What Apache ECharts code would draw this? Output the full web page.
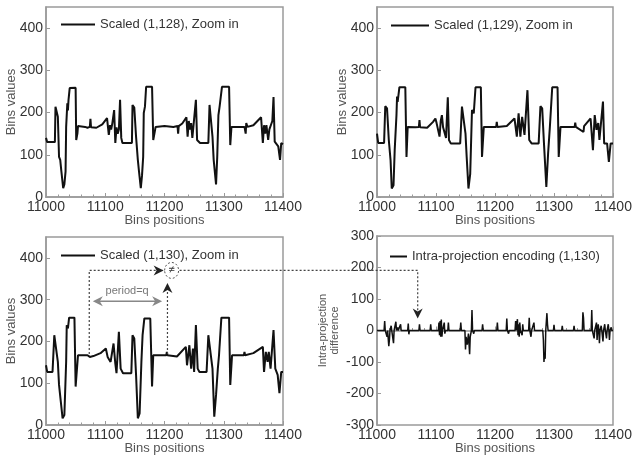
<!DOCTYPE html>
<html>
<head>
<meta charset="utf-8">
<script src="https://cdn.jsdelivr.net/npm/echarts@6/dist/echarts.min.js"></script>
<style>
html, body { margin: 0; padding: 0; background: #fff; }
#main { width: 639px; height: 458px; }
</style>
</head>
<body>
<div id="main"></div>
<script>
// ranges and tick steps
var xRange = [11000, 11400];
var valueRange = [0, 450];
var diffRange = [-300, 300];

// Scaled (1,128), zoom in  -> [bin position, bin value]
var scaled128 = [[11000,140],[11002,130],[11015,130],[11016,214],[11018,212],[11020,190],[11022,95],[11024,88],[11026,60],[11029,21],[11031,30],[11033,60],[11034,166],[11036,222],[11037,205],[11038,230],[11040,258],[11050,259],[11051,135],[11053,150],[11054,168],[11066,166],[11070,164],[11074,166],[11075,185],[11076,165],[11085,164],[11095,172],[11103,187],[11106,147],[11108,170],[11110,160],[11112,175],[11115,206],[11117,128],[11119,165],[11121,150],[11123,160],[11125,230],[11127,140],[11129,128],[11132,131],[11145,128],[11146,218],[11149,212],[11152,143],[11155,88],[11157,60],[11160,21],[11162,50],[11164,95],[11165,199],[11167,214],[11169,261],[11179,261],[11181,135],[11183,150],[11185,166],[11200,168],[11215,166],[11222,168],[11223,150],[11224,168],[11230,174],[11237,189],[11239,143],[11241,180],[11243,160],[11245,175],[11247,140],[11250,185],[11253,230],[11255,135],[11258,131],[11260,128],[11274,128],[11276,218],[11279,214],[11281,143],[11283,88],[11287,30],[11289,95],[11291,194],[11293,214],[11297,261],[11309,261],[11311,123],[11313,166],[11335,166],[11337,150],[11338,175],[11340,166],[11350,170],[11363,189],[11366,128],[11368,170],[11370,150],[11372,170],[11375,135],[11377,160],[11382,180],[11384,237],[11386,131],[11389,128],[11392,120],[11395,88],[11397,128],[11400,125]];

// Scaled (1,129), zoom in
var scaled129 = [[11000,150],[11002,128],[11012,128],[11014,215],[11017,210],[11020,135],[11022,103],[11023,87],[11025,20],[11028,28],[11030,111],[11033,194],[11034,238],[11035,225],[11038,260],[11048,260],[11050,95],[11052,166],[11065,165],[11071,166],[11072,182],[11073,165],[11085,164],[11095,178],[11099,186],[11101,175],[11106,143],[11108,180],[11110,194],[11112,165],[11117,140],[11120,236],[11122,135],[11125,127],[11141,127],[11144,214],[11147,210],[11150,150],[11152,95],[11155,20],[11158,55],[11161,206],[11164,198],[11167,260],[11176,260],[11178,95],[11181,166],[11202,166],[11203,178],[11204,166],[11220,168],[11233,186],[11237,143],[11240,198],[11243,143],[11246,190],[11250,147],[11255,253],[11258,135],[11262,127],[11274,127],[11277,215],[11280,210],[11283,127],[11287,24],[11290,103],[11293,166],[11297,260],[11306,260],[11308,95],[11311,166],[11335,166],[11336,176],[11337,166],[11350,154],[11351,168],[11362,186],[11366,111],[11369,194],[11372,159],[11375,175],[11377,135],[11383,226],[11385,127],[11390,127],[11393,83],[11396,127],[11400,127]];

// Scaled (1,130), zoom in
var scaled130 = [[11000,143],[11002,127],[11011,127],[11014,215],[11017,211],[11020,151],[11022,96],[11025,56],[11028,16],[11031,24],[11034,151],[11035,239],[11037,231],[11039,257],[11048,257],[11050,92],[11054,167],[11070,167],[11074,163],[11080,165],[11092,172],[11101,183],[11104,163],[11109,151],[11114,195],[11117,147],[11119,124],[11123,223],[11126,135],[11130,124],[11144,124],[11146,215],[11149,207],[11152,120],[11155,16],[11158,28],[11161,151],[11163,215],[11166,255],[11176,255],[11179,92],[11181,167],[11203,167],[11204,175],[11205,167],[11221,164],[11236,187],[11238,143],[11242,191],[11245,135],[11248,183],[11250,127],[11253,239],[11256,135],[11259,127],[11271,127],[11274,215],[11277,211],[11281,135],[11284,20],[11287,72],[11290,135],[11292,167],[11296,257],[11309,257],[11311,96],[11314,167],[11334,167],[11335,175],[11336,167],[11350,172],[11366,187],[11368,127],[11371,175],[11374,151],[11376,175],[11379,135],[11384,227],[11387,135],[11391,120],[11394,76],[11397,127],[11400,127]];

// Intra-projection encoding (1,130): difference
var intraDiff = [[11000,0],[11012,0],[11013,30],[11014,0],[11016,0],[11017,-20],[11018,0],[11019,0],[11020,-50],[11021,-30],[11022,0],[11023,0],[11024,15],[11025,0],[11027,0],[11028,-40],[11029,0],[11031,0],[11032,28],[11033,0],[11034,0],[11035,10],[11036,0],[11039,0],[11040,20],[11041,0],[11052,0],[11053,22],[11054,-12],[11055,0],[11071,0],[11072,20],[11073,0],[11090,0],[11091,20],[11092,0],[11104,0],[11105,25],[11106,-15],[11107,30],[11108,-20],[11109,35],[11110,-20],[11111,0],[11113,0],[11114,25],[11115,-10],[11116,0],[11120,0],[11121,25],[11122,0],[11141,0],[11142,25],[11143,0],[11149,0],[11150,-60],[11151,-20],[11153,-45],[11155,-10],[11157,-75],[11158,-20],[11160,0],[11161,65],[11162,0],[11163,0],[11164,-10],[11165,0],[11178,0],[11179,20],[11180,0],[11203,0],[11204,25],[11205,0],[11219,0],[11220,38],[11221,0],[11222,0],[11223,-10],[11224,0],[11234,0],[11235,30],[11236,0],[11237,0],[11238,36],[11239,-15],[11240,20],[11241,-20],[11242,25],[11243,0],[11245,0],[11246,-15],[11247,20],[11248,0],[11257,0],[11258,40],[11259,0],[11260,0],[11261,-20],[11262,0],[11265,0],[11266,25],[11267,0],[11281,0],[11282,-30],[11283,-100],[11284,-70],[11285,-90],[11286,0],[11287,0],[11288,55],[11289,20],[11290,0],[11299,0],[11300,18],[11301,0],[11313,0],[11314,15],[11315,0],[11333,0],[11334,15],[11335,0],[11348,0],[11349,58],[11350,40],[11351,0],[11363,0],[11364,65],[11365,0],[11367,0],[11368,-25],[11369,0],[11371,0],[11372,25],[11373,-30],[11374,0],[11375,20],[11376,0],[11377,-40],[11378,0],[11380,15],[11381,0],[11383,-35],[11384,0],[11386,20],[11387,0],[11389,-25],[11390,0],[11392,20],[11393,0],[11394,-30],[11395,0],[11397,10],[11398,0],[11400,0]];

var seriesNames = ['Scaled (1,128), Zoom in', 'Scaled (1,129), Zoom in', 'Scaled (1,130), Zoom in', 'Intra-projection encoding (1,130)'];

var FONT = 'Liberation Sans, Arial, sans-serif';
var frameColor = '#9a9a9a';

function makeX(g) {
    return {
        type: 'value', gridIndex: g, min: xRange[0], max: xRange[1], interval: 100,
        name: 'Bins positions', nameLocation: 'middle', nameGap: 17, nameMoveOverlap: false,
        nameTextStyle: { fontFamily: FONT, fontSize: 13, color: '#555' },
        axisLine: { lineStyle: { color: frameColor, width: 1.5 } },
        axisTick: { inside: true, length: 4, lineStyle: { color: frameColor } },
        minorTick: { show: true, splitNumber: 5, length: 2.5, lineStyle: { color: frameColor } },
        axisLabel: { fontFamily: FONT, fontSize: 14, color: '#333', margin: 3, formatter: function (v) { return String(v); } },
        splitLine: { show: false }
    };
}
function makeY(g, range, name, gap, size) {
    return {
        type: 'value', gridIndex: g, min: range[0], max: range[1], interval: 100,
        name: name, nameLocation: 'middle', nameGap: gap, nameMoveOverlap: false,
        nameTextStyle: { fontFamily: FONT, fontSize: size, color: '#555', lineHeight: 12 },
        axisLine: { lineStyle: { color: frameColor, width: 1.5 } },
        axisTick: { inside: true, length: 4, lineStyle: { color: frameColor } },
        axisLabel: { fontFamily: FONT, fontSize: 14, color: '#333', margin: 3, showMaxLabel: range[1] % 100 === 0 },
        splitLine: { show: false }
    };
}
function makeLegend(name, left, top, w) {
    return {
        data: [name], left: left, top: top, icon: 'rect', itemWidth: w, itemHeight: 2,
        itemGap: 0, textStyle: { fontFamily: FONT, fontSize: 13, color: '#333' },
        selectedMode: false
    };
}
function makeLine(name, data, g, w) {
    return {
        name: name, type: 'line', data: data, xAxisIndex: g, yAxisIndex: g,
        showSymbol: false, symbol: 'none', animation: false,
        lineStyle: { color: '#111', width: w }, itemStyle: { color: '#111' }
    };
}

var gridBox = { show: true, borderColor: frameColor, borderWidth: 1.5, backgroundColor: 'transparent' };

var option = {
    animation: false,
    grid: [
        Object.assign({ left: 46, top: 7, width: 237, height: 190 }, gridBox),
        Object.assign({ left: 377, top: 7, width: 236, height: 190 }, gridBox),
        Object.assign({ left: 46, top: 237, width: 237, height: 188 }, gridBox),
        Object.assign({ left: 377, top: 236, width: 236, height: 189 }, gridBox)
    ],
    xAxis: [makeX(0), makeX(1), makeX(2), makeX(3)],
    yAxis: [
        makeY(0, valueRange, 'Bins values', 29, 13),
        makeY(1, valueRange, 'Bins values', 29, 13),
        makeY(2, valueRange, 'Bins values', 29, 13),
        makeY(3, diffRange, 'Intra-projection\ndifference', 36, 11)
    ],
    legend: [
        makeLegend(seriesNames[0], 56, 13, 34),
        makeLegend(seriesNames[1], 386, 14, 38),
        makeLegend(seriesNames[2], 56, 244, 34),
        makeLegend(seriesNames[3], 385, 245, 17)
    ],
    series: [
        makeLine(seriesNames[0], scaled128, 0, 2),
        makeLine(seriesNames[1], scaled129, 1, 2),
        makeLine(seriesNames[2], scaled130, 2, 2),
        makeLine(seriesNames[3], intraDiff, 3, 1.5)
    ]
};

var chart = echarts.init(document.getElementById('main'));
chart.setOption(option);

// annotation arrows, anchored in data coordinates
function px(g, x, y) { return chart.convertToPixel({ gridIndex: g }, [x, y]); }
function head(tip, dir, color) {
    var t = tip[0], u = tip[1], p;
    if (dir === 'right') p = [[t, u], [t - 10, u - 5], [t - 7, u], [t - 10, u + 5]];
    if (dir === 'left') p = [[t, u], [t + 10, u - 5], [t + 7, u], [t + 10, u + 5]];
    if (dir === 'up') p = [[t, u], [t - 5, u + 10], [t, u + 7], [t + 5, u + 10]];
    if (dir === 'down') p = [[t, u], [t - 5, u - 10], [t, u - 7], [t + 5, u - 10]];
    return { type: 'polygon', shape: { points: p }, style: { fill: color }, z: 10 };
}
function dotted(points) {
    return { type: 'polyline', shape: { points: points }, style: { stroke: '#444', lineWidth: 1.2, lineDash: [2, 2], fill: null }, z: 10 };
}

var p0 = px(2, 11073, 170), p1 = px(2, 11073, 370);
var c = px(2, 11212, 370);
var q0 = px(2, 11205, 170), q1 = px(2, 11205, 340);
var tip = px(3, 11069, 38);
var perL = px(2, 11079, 296), perR = px(2, 11196, 296), perT = px(2, 11137, 322);

var graphics = [
    dotted([p0, p1, [c[0] - 9, p1[1]]]),
    head([c[0] - 8, c[1]], 'right', '#222'),
    dotted([q0, [q0[0], q1[1] + 6]]),
    head([q0[0], q1[1]], 'up', '#222'),
    { type: 'ellipse', shape: { cx: c[0], cy: c[1], rx: 7, ry: 8 }, style: { stroke: '#555', lineWidth: 1, lineDash: [2, 2], fill: null }, z: 10 },
    { type: 'text', x: c[0], y: c[1], style: { text: '≠', fontSize: 11, fontFamily: FONT, fill: '#333', align: 'center', verticalAlign: 'middle' }, z: 11 },
    dotted([[c[0] + 8, c[1]], [tip[0], c[1]], [tip[0], tip[1] - 6]]),
    head(tip, 'down', '#222'),
    { type: 'line', shape: { x1: perL[0] + 6, y1: perL[1], x2: perR[0] - 6, y2: perR[1] }, style: { stroke: '#888', lineWidth: 1.5 }, z: 10 },
    head(perL, 'left', '#888'),
    head(perR, 'right', '#888'),
    { type: 'text', x: perT[0], y: perT[1], style: { text: 'period=q', fontSize: 11, fontFamily: FONT, fill: '#777', align: 'center', verticalAlign: 'middle' }, z: 10 }
];
chart.setOption({ graphic: graphics });
</script>
</body>
</html>
